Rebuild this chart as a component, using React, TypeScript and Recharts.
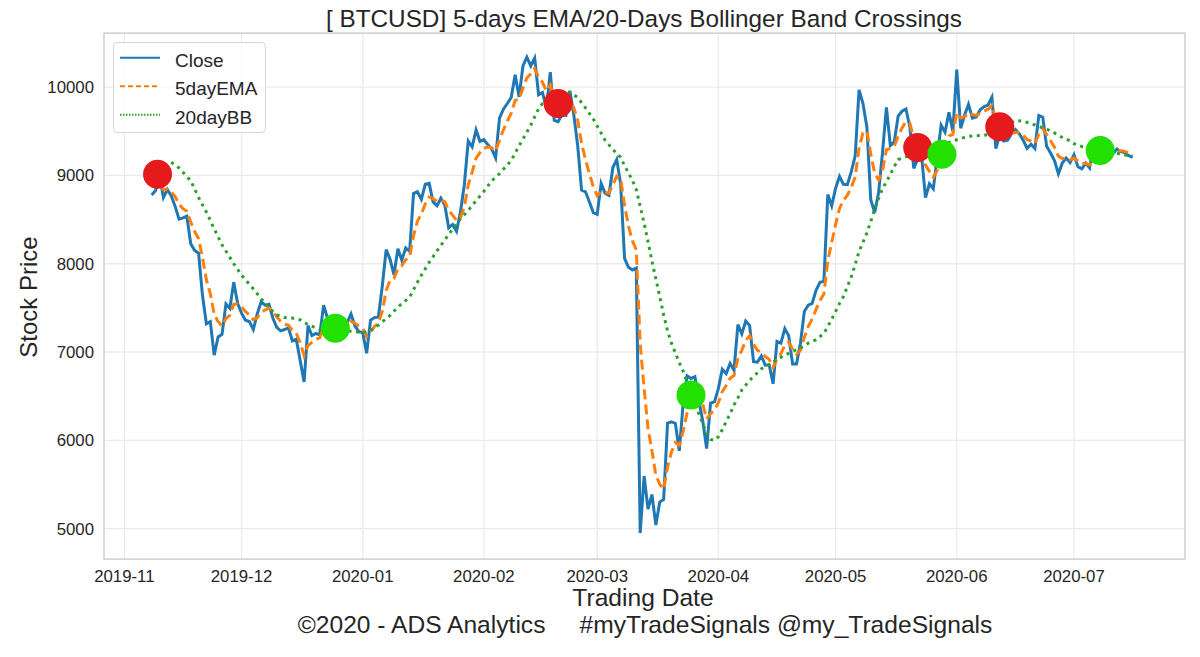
import React from "react";
import {
  CartesianGrid,
  ComposedChart,
  Line,
  ReferenceArea,
  Scatter,
  XAxis,
  YAxis,
} from "recharts";

const FONT = '"Liberation Sans", Arial, Helvetica, sans-serif';
const TEXT = "#262626";

// x values are days counted from 2019-11-01
const monthTicks = [0, 30, 61, 92, 121, 152, 182, 213, 243];
const monthLabels = [
  "2019-11", "2019-12", "2020-01", "2020-02", "2020-03",
  "2020-04", "2020-05", "2020-06", "2020-07",
];
const priceTicks = [5000, 6000, 7000, 8000, 9000, 10000];

// daily close, first value is 2019-11-08
const closeStart = 7;
const closeNov = [8780, 8830, 9000, 8750, 8840, 8770, 8650, 8505, 8520, 8540, 8225, 8150, 8120, 7640, 7320, 7345, 6965, 7170, 7200, 7545, 7495, 7790, 7550];
const closeDec = [7440, 7360, 7345, 7255, 7430, 7570, 7530, 7540, 7385, 7280, 7240, 7255, 7275, 7125, 7145, 6900, 6660, 7300, 7185, 7210, 7195, 7530, 7380, 7330, 7270, 7250, 7300, 7330, 7430, 7295, 7230];
const closeJan = [7220, 6985, 7360, 7390, 7395, 7745, 8160, 8050, 7875, 8170, 8040, 8180, 8140, 8795, 8815, 8730, 8900, 8910, 8700, 8657, 8742, 8665, 8407, 8445, 8368, 8585, 8895, 9390, 9325, 9515, 9385];
const closeFeb = [9405, 9350, 9300, 9200, 9650, 9750, 9815, 9885, 10140, 9890, 10240, 10340, 10240, 10330, 9915, 9940, 9760, 10170, 9625, 9610, 9690, 9680, 9960, 9690, 9340, 8835, 8815, 8700, 8580];
const closeMar = [8560, 8910, 8800, 8775, 9090, 9180, 8900, 8060, 7960, 7930, 7950, 4950, 5595, 5220, 5385, 5040, 5300, 5330, 6195, 6210, 6190, 5880, 6420, 6730, 6700, 6720, 6450, 6220, 5905, 6420, 6435];
const closeApr = [6585, 6805, 6755, 6870, 6795, 7310, 7205, 7350, 7300, 6890, 6885, 6955, 6850, 6855, 6640, 7120, 7100, 7265, 7185, 6865, 6865, 7100, 7460, 7530, 7550, 7700, 7790, 7800, 8785, 8657];
const closeMay = [8855, 8990, 8900, 8895, 9040, 9220, 9970, 9815, 9550, 8725, 8580, 8807, 9260, 9770, 9338, 9380, 9672, 9728, 9753, 9550, 9080, 9188, 9220, 8750, 8906, 8850, 9215, 9570, 9490, 9715, 9500];
const closeJun = [10200, 9535, 9685, 9805, 9650, 9663, 9745, 9780, 9798, 9887, 9305, 9460, 9390, 9400, 9470, 9520, 9472, 9398, 9308, 9355, 9306, 9680, 9660, 9330, 9255, 9168, 9020, 9140, 9197, 9146];
const closeJul = [9236, 9100, 9076, 9140, 9085, 9375, 9252, 9440, 9280, 9280, 9250, 9300, 9270, 9258, 9225, 9205];

// 5-day EMA, first value is 2019-11-10
const emaStart = 9;
const emaNov = [8887, 8841, 8841, 8817, 8761, 8676, 8624, 8596, 8472, 8365, 8283, 8069, 7819, 7661, 7429, 7343, 7295, 7378, 7417, 7541, 7544];
const emaDec = [7509, 7459, 7421, 7366, 7387, 7448, 7475, 7497, 7460, 7400, 7347, 7316, 7302, 7243, 7210, 7107, 6958, 7072, 7110, 7143, 7160, 7283, 7315, 7320, 7303, 7285, 7290, 7303, 7345, 7328, 7295];
const emaJan = [7270, 7175, 7237, 7288, 7324, 7464, 7696, 7814, 7834, 7946, 7977, 8045, 8077, 8316, 8482, 8565, 8677, 8755, 8737, 8710, 8721, 8702, 8604, 8551, 8490, 8522, 8646, 8894, 9038, 9197, 9260];
const emaFeb = [9308, 9322, 9315, 9277, 9401, 9517, 9616, 9706, 9851, 9864, 9989, 10106, 10151, 10211, 10112, 10055, 9957, 10028, 9894, 9799, 9763, 9735, 9810, 9770, 9627, 9363, 9180, 9020, 8873];
const emaMar = [8769, 8816, 8811, 8799, 8896, 8991, 8961, 8661, 8427, 8261, 8157, 7088, 6590, 6133, 5884, 5603, 5502, 5445, 5695, 5867, 5975, 5943, 6102, 6311, 6441, 6534, 6506, 6411, 6242, 6301, 6346];
const emaApr = [6426, 6552, 6620, 6703, 6734, 6926, 7019, 7129, 7186, 7087, 7020, 6998, 6949, 6918, 6825, 6923, 6982, 7076, 7112, 7030, 6975, 7017, 7165, 7287, 7375, 7483, 7585, 7657, 8033, 8241];
const emaMay = [8446, 8627, 8718, 8777, 8865, 8983, 9312, 9480, 9503, 9244, 9023, 8951, 9054, 9293, 9308, 9332, 9445, 9539, 9610, 9590, 9420, 9343, 9302, 9118, 9047, 8981, 9059, 9229, 9316, 9449, 9466];
const emaJun = [9711, 9652, 9663, 9710, 9690, 9681, 9702, 9728, 9751, 9796, 9632, 9575, 9513, 9475, 9473, 9489, 9483, 9455, 9406, 9389, 9361, 9467, 9531, 9464, 9394, 9319, 9219, 9193, 9194, 9178];
const emaJul = [9197, 9165, 9135, 9137, 9120, 9205, 9221, 9294, 9289, 9286, 9274, 9283, 9279, 9272, 9256, 9239];

// 20-day Bollinger middle band, read where it is visible
const bbDays = [12, 14, 17, 19, 21, 23, 25, 28, 30, 33, 35, 37, 39, 41, 43, 45, 47, 50, 58, 61, 63, 65, 68, 70, 73, 75, 76, 78, 80, 82, 84, 86, 88, 90, 92, 94, 96, 99, 101, 104, 106, 107, 114, 116, 118, 120, 122, 123, 125, 127, 128, 130, 131, 132, 133, 134, 135, 136, 137, 138, 139, 140, 141, 142, 143, 147, 148, 149, 150, 151, 152, 153, 154, 155, 156, 157, 158, 160, 162, 163, 165, 167, 168, 170, 172, 174, 175, 177, 179, 180, 181, 182, 183, 184, 185, 186, 187, 188, 189, 190, 191, 192, 193, 194, 195, 196, 197, 198, 213, 215, 216, 218, 220, 221, 228, 230, 232, 234, 236, 238, 240, 242, 243, 245, 254, 256, 258];
const bbValues = [9150, 9085, 8940, 8750, 8585, 8395, 8215, 8000, 7870, 7716, 7605, 7500, 7420, 7390, 7385, 7365, 7310, 7255, 7235, 7220, 7240, 7305, 7415, 7510, 7620, 7790, 7870, 8015, 8145, 8270, 8395, 8510, 8605, 8714, 8820, 8940, 9020, 9170, 9335, 9570, 9755, 9815, 9940, 9885, 9765, 9640, 9480, 9400, 9295, 9205, 9110, 8945, 8840, 8650, 8460, 8250, 8030, 7830, 7630, 7420, 7240, 7100, 6990, 6880, 6780, 6300, 6190, 6080, 6010, 6000, 6040, 6120, 6210, 6300, 6400, 6480, 6570, 6680, 6765, 6810, 6855, 6915, 6940, 6985, 7025, 7070, 7100, 7140, 7210, 7290, 7370, 7460, 7550, 7630, 7740, 7850, 7990, 8140, 8240, 8350, 8480, 8620, 8740, 8850, 8930, 9010, 9100, 9180, 9405, 9432, 9443, 9451, 9455, 9463, 9624, 9616, 9588, 9555, 9525, 9482, 9430, 9393, 9360, 9328, 9251, 9232, 9222];

// crossing markers
const sellDays = [8.5, 111, 203, 224];
const sellPrices = [9013, 9815, 9317, 9551];
const buyDays = [54, 145, 209.2, 249.7];
const buyPrices = [7268, 6512, 9240, 9282];

const closes = [...closeNov, ...closeDec, ...closeJan, ...closeFeb, ...closeMar, ...closeApr, ...closeMay, ...closeJun, ...closeJul];
const emas = [...emaNov, ...emaDec, ...emaJan, ...emaFeb, ...emaMar, ...emaApr, ...emaMay, ...emaJun, ...emaJul];

const closeData = closes.map((value, i) => ({ day: closeStart + i, value }));
const emaData = emas.map((value, i) => ({ day: emaStart + i, value }));
const bbData = bbDays.map((day, i) => ({ day, value: bbValues[i] }));
const sellData = sellDays.map((day, i) => ({ day, value: sellPrices[i] }));
const buyData = buyDays.map((day, i) => ({ day, value: buyPrices[i] }));

const X_DOMAIN: [number, number] = [-5.2, 271.4];
const Y_DOMAIN: [number, number] = [4655, 10614];

const legendItems = [
  { label: "Close", color: "#1f77b4", dash: undefined as string | undefined },
  { label: "5dayEMA", color: "#ff7f0e", dash: "5 3" },
  { label: "20dayBB", color: "#2ca02c", dash: "1.5 1.5" },
];

const marker = (fill: string) => (props: any) =>
  <circle cx={props.cx} cy={props.cy} r={14.5} fill={fill} />;

export default function App() {
  const tick = { fill: TEXT, fontSize: 16.8, fontFamily: FONT };
  return (
    <div style={{ position: "absolute", left: 0, top: 0, width: 1200, height: 657, background: "#fff" }}>
      <ComposedChart
        width={1200}
        height={657}
        margin={{ top: 33, right: 15, bottom: 68, left: 44 }}
      >
        <CartesianGrid stroke="#ebebeb" strokeWidth={1.3} />
        <XAxis
          dataKey="day"
          type="number"
          domain={X_DOMAIN}
          allowDataOverflow
          ticks={monthTicks}
          tickFormatter={(v) => monthLabels[monthTicks.indexOf(v)] ?? ""}
          height={30}
          tick={tick}
          tickLine={false}
          axisLine={false}
          tickMargin={5}
        />
        <YAxis
          dataKey="value"
          type="number"
          domain={Y_DOMAIN}
          allowDataOverflow
          ticks={priceTicks}
          width={60}
          tick={tick}
          tickLine={false}
          axisLine={false}
          tickMargin={4}
        />
        <ReferenceArea
          x1={X_DOMAIN[0]}
          x2={X_DOMAIN[1]}
          y1={Y_DOMAIN[0]}
          y2={Y_DOMAIN[1]}
          fill="none"
          stroke="#cccccc"
          strokeWidth={1.25}
        />
        <Line data={closeData} dataKey="value" stroke="#1f77b4" strokeWidth={3} dot={false} activeDot={false} isAnimationActive={false} />
        <Line data={emaData} dataKey="value" stroke="#ff7f0e" strokeWidth={3} strokeDasharray="10 5" dot={false} activeDot={false} isAnimationActive={false} />
        <Line data={bbData} dataKey="value" stroke="#2ca02c" strokeWidth={3} strokeDasharray="3 4.5" dot={false} activeDot={false} isAnimationActive={false} />
        <Scatter data={sellData} dataKey="value" shape={marker("#e41a1c")} isAnimationActive={false} />
        <Scatter data={buyData} dataKey="value" shape={marker("#22e000")} isAnimationActive={false} />
      </ComposedChart>

      <svg
        width={1200}
        height={657}
        style={{ position: "absolute", left: 0, top: 0, pointerEvents: "none" }}
        fontFamily={FONT}
      >
        <text x={644} y={27} textAnchor="middle" fontSize={24.3} fill={TEXT}>
          [ BTCUSD] 5-days EMA/20-Days Bollinger Band Crossings
        </text>
        <text x={36.5} y={297} textAnchor="middle" fontSize={24} fill={TEXT} transform="rotate(-90 36.5 297)">
          Stock Price
        </text>
        <text x={643} y={605.5} textAnchor="middle" fontSize={24.6} fill={TEXT}>
          Trading Date
        </text>
        <text x={645} y={633.3} textAnchor="middle" fontSize={24.6} fill={TEXT} style={{ whiteSpace: "pre" }}>
          {"©2020 - ADS Analytics     #myTradeSignals @my_TradeSignals"}
        </text>

        <rect x={113.5} y={42.5} width={152} height={90} rx={4} fill="#ffffff" fillOpacity={0.8} stroke="#d6d6d6" />
        {legendItems.map((item, i) => (
          <g key={item.label}>
            <line
              x1={120}
              x2={160}
              y1={57.7 + i * 28.5}
              y2={57.7 + i * 28.5}
              stroke={item.color}
              strokeWidth={2}
              strokeDasharray={item.dash}
            />
            <text x={175} y={66.5 + i * 28.5} fontSize={19} fill={TEXT}>
              {item.label}
            </text>
          </g>
        ))}
      </svg>
    </div>
  );
}
